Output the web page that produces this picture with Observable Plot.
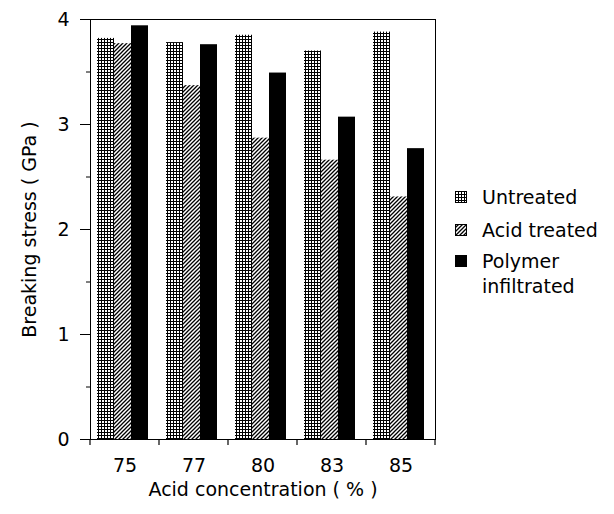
<!DOCTYPE html>
<html>
<head>
<meta charset="utf-8">
<script src="https://cdn.jsdelivr.net/npm/d3@7"></script>
<script src="https://cdn.jsdelivr.net/npm/@observablehq/plot@0.6"></script>
<style>
  html, body { margin: 0; padding: 0; background: #fff; }
  #wrap { position: relative; width: 614px; height: 514px; font-family: "DejaVu Sans", sans-serif; color: #000; }
  #chart { position: absolute; left: 0; top: 0; }
  .leg { position: absolute; left: 455px; font-size: 19px; line-height: 25px; }
  .leg svg { position: absolute; left: 0; }
  .leg span { position: absolute; left: 27px; white-space: nowrap; }
</style>
</head>
<body>
<div id="wrap">
  <div id="chart"></div>
  <div id="legend"></div>
</div>
<script>
// ---- data ----
const concentrations = ["75", "77", "80", "83", "85"];
const seriesNames = ["Untreated", "Acid treated", "Polymer infiltrated"];
const untreated          = [3.82, 3.78, 3.85, 3.70, 3.88];
const acidTreated        = [3.77, 3.37, 2.87, 2.66, 2.31];
const polymerInfiltrated = [3.94, 3.76, 3.49, 3.07, 2.77];
const yMajorTicks = [0, 1, 2, 3, 4];
const yMinorTicks = [0.5, 1.5, 2.5, 3.5];
const frameLevels = [0, 4];

const seriesValues = [untreated, acidTreated, polymerInfiltrated];
const rows = concentrations.flatMap((c, i) =>
  seriesNames.map((s, j) => ({conc: c, series: s, value: seriesValues[j][i]})));

const fills = ["url(#pat-grid)", "url(#pat-hatch)", "#000"];

const plot = Plot.plot({
  width: 445,
  height: 514,
  marginLeft: 88,
  marginRight: 8,
  marginTop: 19,
  marginBottom: 75,
  style: {fontFamily: "'DejaVu Sans', sans-serif", fontSize: "19px", color: "#000", background: "#fff", overflow: "visible"},
  fx: {domain: concentrations, padding: 0},
  x: {domain: seriesNames, paddingInner: 0, paddingOuter: 0.52, align: 0.39, axis: null},
  y: {domain: [0, 4], nice: false},
  color: {type: "ordinal", domain: seriesNames, range: fills},
  marks: [
    Plot.barY(rows, {fx: "conc", x: "series", y: "value", fill: "series"}),
    Plot.ruleY(frameLevels, {stroke: "#000", strokeWidth: 1}),
    Plot.frame({anchor: "left", facetAnchor: "left", stroke: "#000"}),
    Plot.frame({anchor: "right", facetAnchor: "right", stroke: "#000"}),
    Plot.axisY(yMajorTicks, {tickSize: 10, tickPadding: 11, tickFormat: d3.format("d"), label: "Breaking stress ( GPa )", labelArrow: "none", labelAnchor: "center", labelOffset: 68, fontSize: 19}),
    Plot.axisY(yMinorTicks, {tickSize: 4, tickFormat: () => "", label: null}),
    Plot.axisFx({anchor: "bottom", tickSize: 0, tickPadding: 19, label: "Acid concentration ( % )", labelArrow: "none", labelAnchor: "center", labelOffset: 56, fontSize: 19})
  ]
});

// pattern definitions
const svg = d3.select(plot);
const defs = svg.insert("defs", ":first-child");
const pg = defs.append("pattern").attr("id", "pat-grid").attr("patternUnits", "userSpaceOnUse").attr("width", 3).attr("height", 3);
pg.append("rect").attr("width", 3).attr("height", 3).attr("fill", "#fff");
pg.append("path").attr("d", "M0,0.5H3M0.5,0V3").attr("stroke", "#000").attr("stroke-width", 1);
const ph = defs.append("pattern").attr("id", "pat-hatch").attr("patternUnits", "userSpaceOnUse").attr("width", 4).attr("height", 4);
ph.append("rect").attr("width", 4).attr("height", 4).attr("fill", "#fff");
ph.append("path").attr("d", "M-1,1L1,-1M0,4L4,0M3,5L5,3").attr("stroke", "#000").attr("stroke-width", 1.3);

// group-boundary ticks on the x axis, positioned with Plot's own fx scale
const fx = plot.scale("fx");
const yScale = plot.scale("y");
const bounds = concentrations.map(c => fx.apply(c)).concat([fx.apply(concentrations[concentrations.length - 1]) + fx.bandwidth]);
const y0 = yScale.apply(0);
svg.append("g").selectAll("line").data(bounds).join("line")
  .attr("x1", d => d).attr("x2", d => d)
  .attr("y1", y0).attr("y2", y0 + 6)
  .attr("stroke", "#000").attr("stroke-width", 1.2);

document.getElementById("chart").appendChild(plot);

// legend
const legendTops = [185, 218, 249];
const legend = d3.select("#legend");
seriesNames.forEach((s, i) => {
  const item = legend.append("div").attr("class", "leg").style("top", legendTops[i] + "px");
  const sw = item.append("svg").attr("width", 12).attr("height", 12).style("top", "6px");
  sw.append("rect").attr("x", 0.5).attr("y", 0.5).attr("width", 11).attr("height", 11)
    .attr("fill", fills[i]).attr("stroke", "#000").attr("stroke-width", 1);
  const label = i === 2 ? "Polymer<br>infiltrated" : s;
  item.append("span").html(label);
});
</script>
</body>
</html>
